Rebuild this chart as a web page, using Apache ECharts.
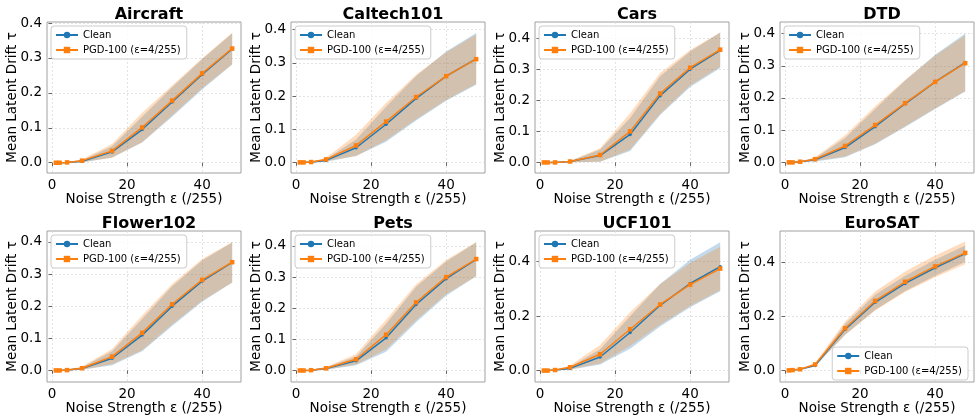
<!DOCTYPE html>
<html>
<head>
<meta charset="utf-8">
<script src="https://cdn.jsdelivr.net/npm/echarts@6/dist/echarts.min.js"></script>
<style>html,body{margin:0;padding:0;background:#fff}#c{width:979px;height:418px}</style>
</head>
<body>
<div id="c"></div>
<script>
// ---- data ----
const eps = [1, 2, 4, 8, 16, 24, 32, 40, 48];
const titles = ['Aircraft', 'Caltech101', 'Cars', 'DTD', 'Flower102', 'Pets', 'UCF101', 'EuroSAT'];
const seriesNames = ['Clean', 'PGD-100 (ε=4/255)'];

const aircraftClean    = [0, 0, 0.001, 0.004, 0.031, 0.095, 0.174, 0.253, 0.326];
const aircraftCleanStd = [0, 0, 0.001, 0.003, 0.016, 0.037, 0.042, 0.043, 0.045];
const aircraftPgd      = [0, 0, 0.001, 0.006, 0.034, 0.101, 0.178, 0.256, 0.327];
const aircraftPgdStd   = [0, 0, 0.001, 0.004, 0.020, 0.042, 0.043, 0.043, 0.045];

const caltechClean    = [0, 0, 0.001, 0.006, 0.044, 0.115, 0.193, 0.260, 0.312];
const caltechCleanStd = [0, 0, 0.001, 0.004, 0.025, 0.053, 0.067, 0.074, 0.078];
const caltechPgd      = [0, 0, 0.001, 0.009, 0.051, 0.123, 0.197, 0.260, 0.311];
const caltechPgdStd   = [0, 0, 0.001, 0.005, 0.032, 0.056, 0.067, 0.072, 0.074];

const carsClean    = [0, 0, 0, 0.003, 0.022, 0.090, 0.215, 0.300, 0.361];
const carsCleanStd = [0, 0, 0, 0.002, 0.020, 0.053, 0.062, 0.057, 0.057];
const carsPgd      = [0, 0, 0, 0.003, 0.024, 0.100, 0.222, 0.305, 0.363];
const carsPgdStd   = [0, 0, 0, 0.002, 0.022, 0.058, 0.066, 0.057, 0.055];

const dtdClean    = [0, 0, 0.002, 0.008, 0.046, 0.111, 0.182, 0.250, 0.310];
const dtdCleanStd = [0, 0, 0.001, 0.005, 0.030, 0.055, 0.072, 0.084, 0.090];
const dtdPgd      = [0, 0, 0.002, 0.010, 0.051, 0.116, 0.184, 0.250, 0.308];
const dtdPgdStd   = [0, 0, 0.001, 0.006, 0.033, 0.058, 0.072, 0.082, 0.087];

const flowerClean    = [0, 0, 0.001, 0.006, 0.038, 0.110, 0.200, 0.278, 0.336];
const flowerCleanStd = [0, 0, 0.001, 0.004, 0.022, 0.050, 0.062, 0.064, 0.062];
const flowerPgd      = [0, 0, 0.001, 0.007, 0.043, 0.117, 0.206, 0.282, 0.337];
const flowerPgdStd   = [0, 0, 0.001, 0.005, 0.024, 0.054, 0.063, 0.065, 0.063];

const petsClean    = [0, 0, 0.001, 0.006, 0.031, 0.105, 0.212, 0.295, 0.357];
const petsCleanStd = [0, 0, 0.001, 0.004, 0.014, 0.045, 0.057, 0.055, 0.054];
const petsPgd      = [0, 0, 0.001, 0.007, 0.036, 0.115, 0.219, 0.300, 0.358];
const petsPgdStd   = [0, 0, 0.001, 0.004, 0.017, 0.048, 0.058, 0.055, 0.055];

const ucfClean    = [0, 0, 0.002, 0.008, 0.050, 0.140, 0.240, 0.320, 0.382];
const ucfCleanStd = [0, 0, 0.001, 0.005, 0.028, 0.060, 0.078, 0.087, 0.090];
const ucfPgd      = [0, 0, 0.002, 0.012, 0.060, 0.152, 0.243, 0.316, 0.375];
const ucfPgdStd   = [0, 0, 0.001, 0.007, 0.034, 0.062, 0.075, 0.079, 0.080];

const eurosatClean    = [0, 0.001, 0.004, 0.018, 0.152, 0.252, 0.322, 0.380, 0.432];
const eurosatCleanStd = [0, 0.001, 0.001, 0.004, 0.020, 0.028, 0.028, 0.030, 0.030];
const eurosatPgd      = [0, 0.001, 0.004, 0.022, 0.156, 0.257, 0.328, 0.385, 0.435];
const eurosatPgdStd   = [0, 0.001, 0.001, 0.005, 0.025, 0.035, 0.038, 0.040, 0.042];

const xTicks = [0, 20, 40];
const yTicksA = [0, 0.1, 0.2, 0.3, 0.4];
const yTicksB = [0, 0.2, 0.4];
const yRanges = [[-0.0294, 0.403], [-0.032, 0.423], [-0.034, 0.452], [-0.033, 0.436],
                 [-0.036, 0.434], [-0.037, 0.448], [-0.042, 0.513], [-0.043, 0.516]];
const yTickSets = [yTicksA, yTicksA, yTicksA, yTicksA, yTicksA, yTicksA, yTicksB, yTicksB];

const panels = [
  [aircraftClean, aircraftCleanStd, aircraftPgd, aircraftPgdStd],
  [caltechClean, caltechCleanStd, caltechPgd, caltechPgdStd],
  [carsClean, carsCleanStd, carsPgd, carsPgdStd],
  [dtdClean, dtdCleanStd, dtdPgd, dtdPgdStd],
  [flowerClean, flowerCleanStd, flowerPgd, flowerPgdStd],
  [petsClean, petsCleanStd, petsPgd, petsPgdStd],
  [ucfClean, ucfCleanStd, ucfPgd, ucfPgdStd],
  [eurosatClean, eurosatCleanStd, eurosatPgd, eurosatPgdStd]
];

// ---- layout ----
const FONT = 'DejaVu Sans';
const BLUE = '#1f77b4', ORANGE = '#ff7f0e';
const colLefts = [47, 291, 535, 780];
const rowTops = [22, 231];
const W = 194, H = 151;

const grids = [], xAxes = [], yAxes = [], series = [], titleArr = [], legends = [];

function bandRenderer(bandData, color) {
  return function (params, api) {
    if (params.dataIndex !== 0) return null;
    const upper = bandData.map(d => api.coord([d[0], d[2]]));
    const lower = bandData.map(d => api.coord([d[0], d[1]])).reverse();
    return {
      type: 'polygon',
      shape: { points: upper.concat(lower) },
      style: { fill: color, opacity: 0.27 },
      silent: true
    };
  };
}

panels.forEach((p, i) => {
  const r = Math.floor(i / 4), c = i % 4;
  const left = colLefts[c], top = rowTops[r];
  grids.push({ left: left, top: top, width: W, height: H, show: true, borderColor: '#a0a0a0', borderWidth: 1, backgroundColor: 'transparent' });
  xAxes.push({
    gridIndex: i, type: 'value', min: -1.35, max: 50.35,
    name: 'Noise Strength ε (/255)', nameLocation: 'middle', nameGap: 17,
    nameTextStyle: { fontFamily: FONT, fontSize: 13.5, color: '#000' },
    axisLine: { show: false },
    axisTick: { show: true, customValues: xTicks, length: 3.5, lineStyle: { color: '#444', width: 0.8 } },
    axisLabel: { customValues: xTicks, fontFamily: FONT, fontSize: 13.5, color: '#000', margin: 5 },
    splitLine: { show: true, lineStyle: { color: '#dcdcdc', width: 0.8, type: [2, 2] } }
  });
  const yt = yTickSets[i];
  yAxes.push({
    gridIndex: i, type: 'value', min: yRanges[i][0], max: yRanges[i][1],
    name: 'Mean Latent Drift τ', nameLocation: 'middle', nameGap: 28, nameRotate: 90,
    nameMoveOverlap: false,
    nameTextStyle: { fontFamily: FONT, fontSize: 13.5, color: '#000' },
    axisLine: { show: false },
    axisTick: { show: true, customValues: yt, length: 3.5, lineStyle: { color: '#444', width: 0.8 } },
    axisLabel: { customValues: yt, fontFamily: FONT, fontSize: 13.5, color: '#000', margin: 5,
      formatter: v => v.toFixed(1) },
    splitLine: { show: true, lineStyle: { color: '#dcdcdc', width: 0.8, type: [2, 2] } }
  });
  titleArr.push({
    text: titles[i], left: left + W / 2, top: top - 20, textAlign: 'center',
    textStyle: { fontFamily: FONT, fontSize: 16, fontWeight: 'bold', color: '#000' }
  });
  const [cm, cs, pm, ps] = p;
  const defs = [[cm, cs, BLUE, seriesNames[0], 'circle', 3.5], [pm, ps, ORANGE, seriesNames[1], 'rect', 4.5]];
  defs.forEach(([m, s, col]) => {
    const band = eps.map((x, j) => [x, m[j] - s[j], m[j] + s[j]]);
    series.push({
      type: 'custom', xAxisIndex: i, yAxisIndex: i, silent: true,
      data: band, encode: { x: 0, y: [1, 2] },
      renderItem: bandRenderer(band, col), z: 1
    });
  });
  defs.forEach(([m, s, col, nm, sym, ss]) => {
    series.push({
      type: 'line', name: nm, xAxisIndex: i, yAxisIndex: i,
      data: eps.map((x, j) => [x, m[j]]),
      symbol: sym, symbolSize: ss, showSymbol: true,
      itemStyle: { color: col }, lineStyle: { color: col, width: 1.5 }, z: 3
    });
  });
  const leg = {
    data: seriesNames, orient: 'vertical',
    itemWidth: 22, itemHeight: 8, itemGap: 5,
    padding: [4, 6, 4, 4],
    borderColor: '#cccccc', borderWidth: 1, borderRadius: 3, backgroundColor: 'rgba(255,255,255,0.8)',
    textStyle: { fontFamily: FONT, fontSize: 10, color: '#000' },
    selectedMode: false
  };
  if (i === 7) { leg.right = 11; leg.bottom = 38; }
  else { leg.left = left + 4; leg.top = top + 4; }
  legends.push(leg);
});

const chart = echarts.init(document.getElementById('c'), null, { renderer: 'canvas' });
chart.setOption({
  animation: false,
  backgroundColor: '#ffffff',
  title: titleArr,
  legend: legends,
  grid: grids,
  xAxis: xAxes,
  yAxis: yAxes,
  series: series
});
</script>
</body>
</html>
